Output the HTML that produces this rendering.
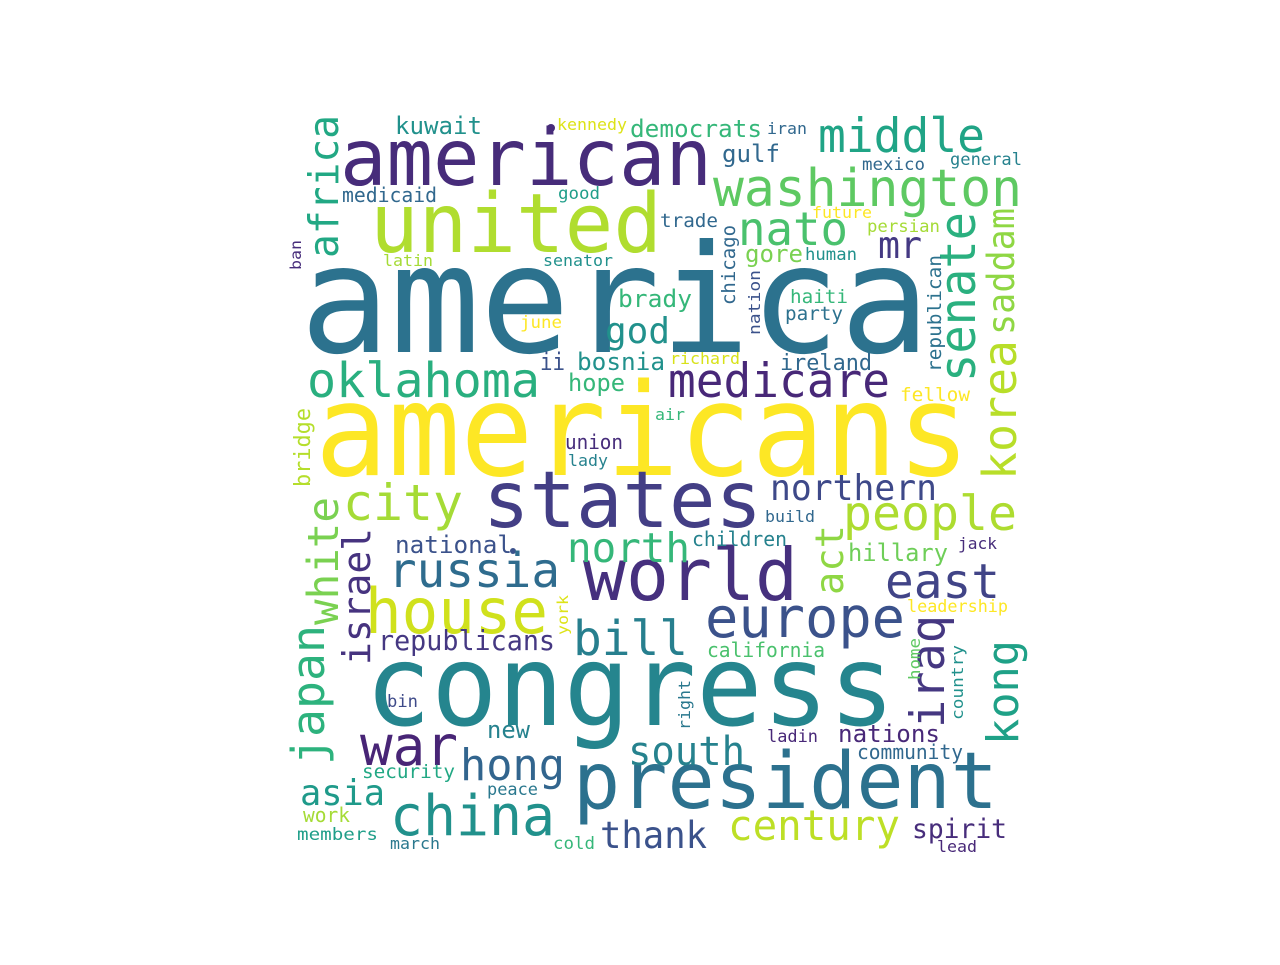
<!DOCTYPE html>
<html><head><meta charset="utf-8"><style>
html,body{margin:0;padding:0;background:#fff;}
svg text{font-family:"DejaVu Sans Mono","Liberation Mono",monospace;}
</style></head><body>
<svg id="cloud" width="1280" height="960" viewBox="0 0 1280 960" xmlns="http://www.w3.org/2000/svg">
<rect width="1280" height="960" fill="#fff"/>
<circle cx="551" cy="128" r="4" fill="#472d7b"/>
<circle cx="643" cy="384" r="5" fill="#fde725"/>
<circle cx="513" cy="551" r="3" fill="#3b528b"/>
</svg>
<script>
// word, left/baseline-x, baseline/bottom-y, width(length), font-size, rotated, color
const words = ["america","americans","congress","american","united","states","president","world","house","china","europe","washington","middle","medicare","oklahoma","senate","saddam","korea","africa","nato","mr","city","people","northern","north","russia","east","white","japan","israel","act","iraq","kong","bill","war","hong","south","asia","thank","century","spirit","republicans","national","california","hillary","nations","community","children","build","jack","leadership","new","ladin","bin","right","york","home","country","security","peace","work","members","march","cold","lead","union","lady","air","bridge","fellow","ireland","richard","hope","bosnia","ii","god","brady","june","chicago","nation","republican","haiti","party","gore","human","persian","future","mexico","general","gulf","iran","democrats","kennedy","kuwait","medicaid","good","trade","latin","senator","ban"];
const sizes = [150,128,112,78,82,78,78,72,62,56,56,52,47,47,48,50,37,46,41,46,37,50,48,36,41,48,48,43,45,38,39,47,44,48,55,44,40,36,37,42,27,28,24,20,24,24,20,20,16,16,17,24,17,17,16,15,16,16,19,17,20,17,16,17,16,20,16,16,22,19,22,16,24,24,24,36,24,17,19,16,19,19,19,24,17,17,16,17,17,24,16,24,16,24,20,17,19,16,16,15];
const posX = [300,315,365,340,370,483,573,583,365,390,705,713,818,668,307,975,1014,1016,338,738,878,343,843,770,567,388,885,338,324,370,843,944,1018,573,360,460,628,300,600,728,912,378,395,707,848,838,857,692,765,958,907,487,767,387,690,568,920,963,362,487,303,297,390,553,937,565,568,655,310,900,780,670,568,577,540,605,618,520,735,760,941,790,785,745,805,867,812,862,950,722,767,630,557,395,342,558,660,383,543,301];
const posY = [352,475,725,185,252,527,808,600,633,835,637,206,152,397,397,382,335,480,258,245,258,520,530,500,562,587,598,625,765,665,595,728,745,655,765,780,765,805,848,840,838,650,553,657,561,742,759,546,522,549,612,738,742,707,730,635,680,720,778,795,822,840,849,849,852,449,466,420,487,401,370,364,391,370,370,343,307,328,305,335,372,303,320,262,260,232,218,170,165,162,134,137,130,134,202,199,227,266,266,270];
const widths = [630,655,530,372,292,279,425,215,183,165,200,309,167,222,233,170,127,140,143,110,44,120,174,167,123,172,115,128,140,137,70,113,105,115,98,105,117,85,107,172,95,177,117,118,100,102,106,95,50,39,101,43,51,31,50,40,42,75,93,51,47,81,50,42,40,58,40,30,79,70,92,70,57,88,25,65,74,42,80,65,117,58,58,58,52,73,60,63,72,58,40,132,70,87,95,42,58,50,70,30];
const rotated = [0,0,0,0,0,0,0,0,0,0,0,0,0,0,0,1,1,1,1,0,0,0,0,0,0,0,0,1,1,1,1,1,1,0,0,0,0,0,0,0,0,0,0,0,0,0,0,0,0,0,0,0,0,0,1,1,1,1,0,0,0,0,0,0,0,0,0,0,1,0,0,0,0,0,0,0,0,0,1,1,1,0,0,0,0,0,0,0,0,0,0,0,0,0,0,0,0,0,0,1];
const colors = ["#2c728e","#fde725","#25858e","#472c7a","#b0dd2f","#433e85","#2c718e","#46307e","#d0e11c","#21918c","#3b528b","#5ec962","#20a486","#482878","#29af7f","#2ab07f","#8fd744","#b8de29","#22a884","#4ac16d","#443983","#a5db36","#addc30","#3e4989","#35b779","#2f6c8e","#414487","#7ad151","#2db27d","#46337f","#8fd744","#453781","#1fa187","#277f8e","#482576","#32658e","#26828e","#1f9a8a","#3b528b","#bddf26","#472d7b","#453882","#3b528b","#4ac16d","#6ece58","#482878","#31688e","#26828e","#31688e","#472d7b","#fde725","#26828e","#482878","#3e4a89","#2a788e","#dde318","#5ec962","#21918c","#22a884","#2a788e","#a5db36","#1f9e89","#2a788e","#35b779","#482878","#472d7b","#26828e","#35b779","#b5de2b","#fde725","#31688e","#d8e219","#35b779","#21918c","#3b528b","#21918c","#35b779","#fde725","#31688e","#3b528b","#2c728e","#35b779","#2c718e","#7ad151","#21918c","#a5db36","#fde725","#31688e","#26828e","#31688e","#31688e","#35b779","#dde318","#21918c","#31688e","#1f9e89","#31688e","#a5db36","#21918c","#472d7b"];
const svg = document.getElementById('cloud');
const NS = 'http://www.w3.org/2000/svg';
for (let i = 0; i < words.length; i++) {
  const t = document.createElementNS(NS, 'text');
  
  
  t.setAttribute('x', posX[i]);
  t.setAttribute('y', posY[i]);
  t.setAttribute('font-size', sizes[i]);
  t.setAttribute('fill', colors[i]);
  t.setAttribute('textLength', widths[i]);
  t.setAttribute('lengthAdjust', 'spacingAndGlyphs');
  if (rotated[i]) t.setAttribute('transform', 'rotate(-90 ' + posX[i] + ' ' + posY[i] + ')');
  t.textContent = words[i];
  svg.appendChild(t);
}
</script>
</body></html>
